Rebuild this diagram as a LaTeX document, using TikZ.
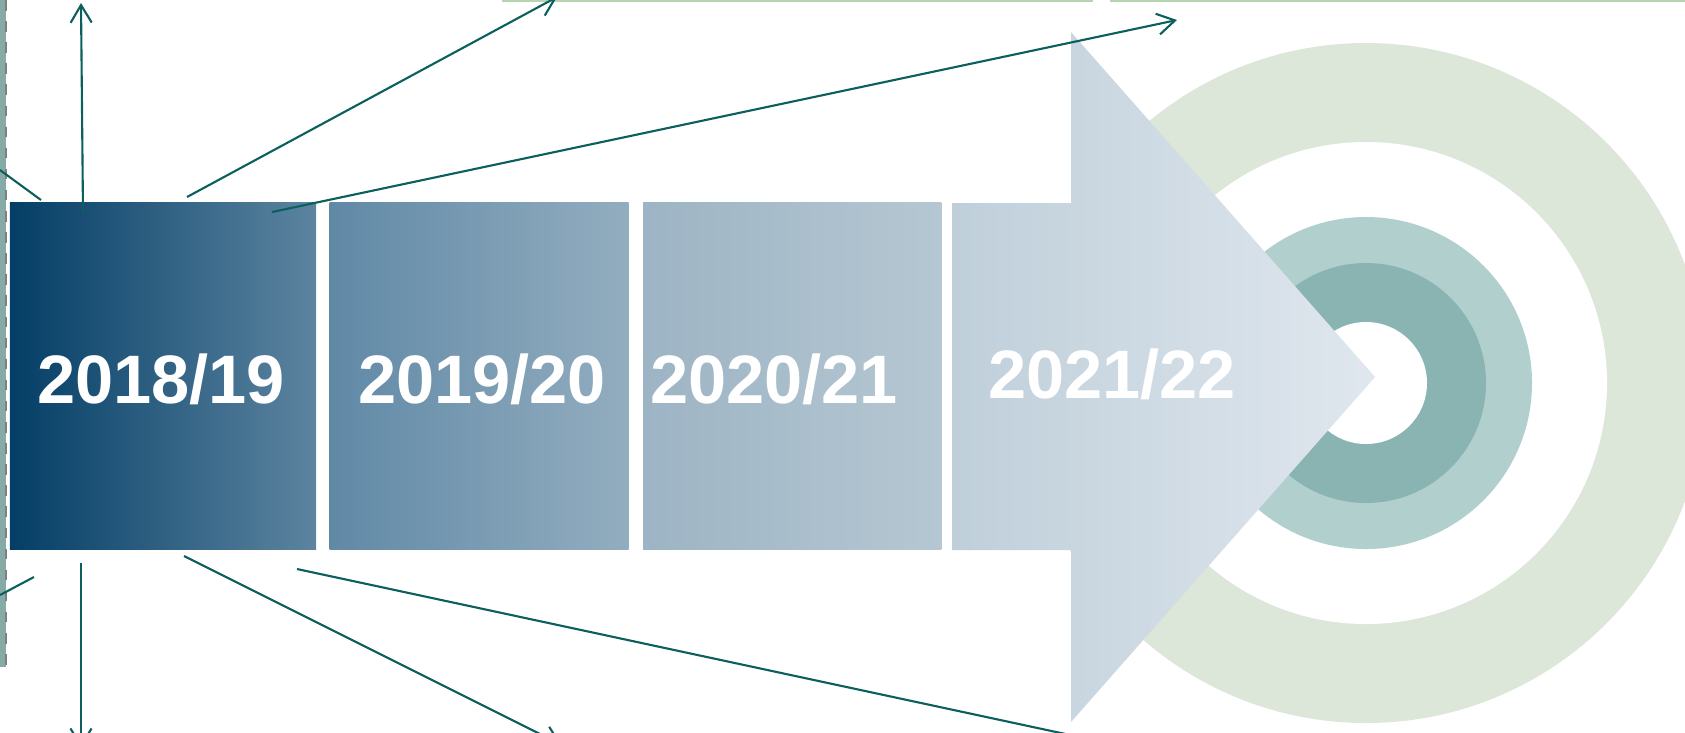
\documentclass[tikz,border=0pt]{standalone}
\usepackage{fontspec}
\setmainfont{Liberation Sans}
\usetikzlibrary{arrows.meta, positioning}

\definecolor{linkteal}{HTML}{0B5F5C}
\definecolor{stripteal}{HTML}{86ABA7}
\definecolor{topgreen}{HTML}{B9D4B3}
\definecolor{ringgreen}{HTML}{DCE7DA}
\definecolor{ringlight}{HTML}{B1CFCD}
\definecolor{ringmid}{HTML}{89B4B1}

\tikzstyle{yearbox} = [rectangle, minimum height=3.46cm, inner sep=0pt, draw=none]
\tikzstyle{year} = [text=white, font=\fontsize{19.5}{23}\selectfont\bfseries, anchor=base]
\tikzstyle{link} = [draw=linkteal, line width=0.6pt]
\tikzstyle{arrow} = [link, -{Straight Barb[length=5pt,width=6pt]}]

\begin{document}
\begin{tikzpicture}[x=0.01cm, y=-0.01cm]
    \useasboundingbox (0,0) rectangle (1685,732);

    % Target rings
    \fill[ringgreen] (1366,383) circle (340);
    \fill[white] (1366,383) circle (241);
    \fill[ringlight] (1366,383) circle (166);
    \fill[ringmid] (1366,383) circle (120);
    \fill[white] (1366,383) circle (61);

    % Top rule
    \draw[topgreen, line width=0.6pt] (502,1) -- (1093,1);
    \draw[topgreen, line width=0.6pt] (1110,1) -- (1685,1);

    % Left strip
    \fill[stripteal] (0,0) rectangle (6,667);
    \draw[gray, dashed, line width=0.5pt] (6,0) -- (6,667) -- (0,667);

    % Year boxes
    \node[yearbox, minimum width=3.06cm, left color={rgb,255:red,4;green,62;blue,102}, right color={rgb,255:red,92;green,132;blue,160}] (box1) at (163,376) {};
    \node[yearbox, minimum width=2.99cm, right=0.12cm of box1, left color={rgb,255:red,96;green,137;blue,166}, right color={rgb,255:red,147;green,173;blue,191}] (box2) {};
    \node[yearbox, minimum width=2.98cm, right=0.13cm of box2, left color={rgb,255:red,157;green,180;blue,196}, right color={rgb,255:red,181;green,199;blue,210}] (box3) {};

    % Big arrow
    \shade[left color={rgb,255:red,191;green,207;blue,218}, right color={rgb,255:red,224;green,231;blue,238}]
        (952,203) -- (1071,203) -- (1071,32) -- (1375,377) -- (1071,722) -- (1071,550) -- (952,550) -- cycle;

    % Labels
    \node[year] (y1) at (161,403) {2018/19};
    \node[year] (y2) at (482,403) {2019/20};
    \node[year] (y3) at (774,403) {2020/21};
    \node[year] (y4) at (1112,398) {2021/22};

    % Link ends
    \coordinate (nw) at (41,200);     \coordinate (nw-end) at (0,170);
    \coordinate (up) at (83,212);     \coordinate (up-end) at (81,3);
    \coordinate (ne) at (187,197);    \coordinate (ne-end) at (557,-3);
    \coordinate (far) at (272,212);   \coordinate (far-end) at (1177,20);
    \coordinate (sw) at (34,577);     \coordinate (sw-end) at (0,595);
    \coordinate (down) at (81,563);   \coordinate (down-end) at (81,748);
    \coordinate (se) at (184,556);    \coordinate (se-end) at (562,745);
    \coordinate (low) at (297,569);   \coordinate (low-end) at (1140,750);

    % Links
    \draw[link] (nw) -- (nw-end);
    \draw[arrow] (up) -- (up-end);
    \draw[arrow] (ne) -- (ne-end);
    \draw[arrow] (far) -- (far-end);
    \draw[link] (sw) -- (sw-end);
    \draw[arrow] (down) -- (down-end);
    \draw[arrow] (se) -- (se-end);
    \draw[arrow] (low) -- (low-end);

\end{tikzpicture}
\end{document}
